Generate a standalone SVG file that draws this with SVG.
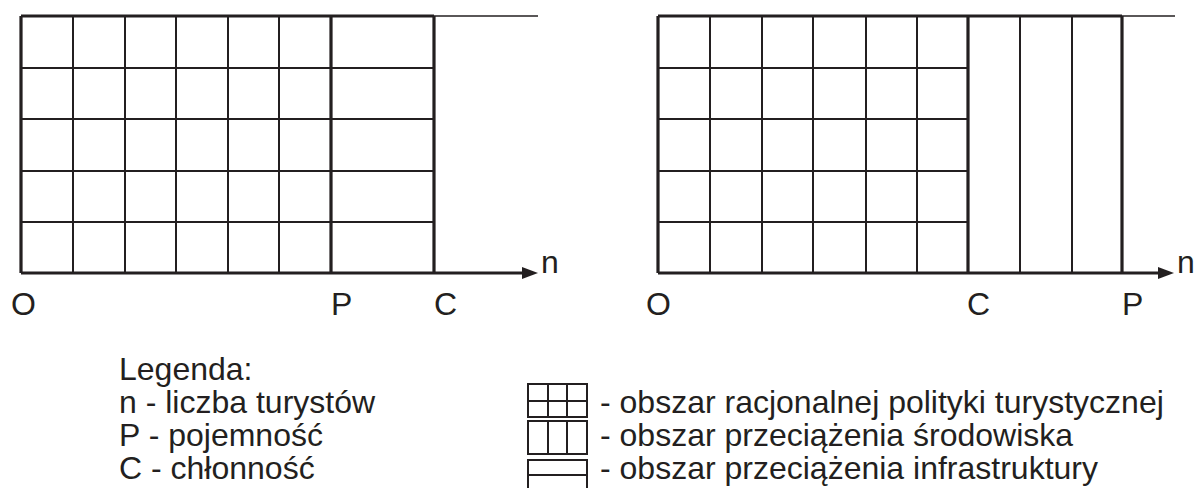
<svg xmlns="http://www.w3.org/2000/svg" width="1195" height="488" viewBox="0 0 1195 488">
<defs>
<style>
.thin{stroke:#231f20;stroke-width:2;fill:none}
.thick{stroke:#231f20;stroke-width:3.2;fill:none}
.ext{stroke:#231f20;stroke-width:1.6;fill:none}
.lbl{font-family:"Liberation Sans",Arial,sans-serif;font-size:32px;fill:#231f20}
.arr{fill:#231f20}
</style>
</defs>
<rect width="1195" height="488" fill="#ffffff"/>
<g id="chart-left">
<path class="thin" d="M73 16V273M125 16V273M176 16V273M228 16V273M279 16V273M21 68H434M21 119H434M21 171H434M21 222H434"/>
<path class="ext" d="M434 16H538"/>
<path class="thick" d="M21 16H434M21 16V273M331 16V273M434 16V273M21 273H524"/>
<polygon class="arr" points="538,273 522,267 522,279"/>
<text class="lbl" x="11" y="315">O</text>
<text class="lbl" x="331" y="315">P</text>
<text class="lbl" x="434" y="315">C</text>
<text class="lbl" x="541" y="273">n</text>
</g>
<g id="chart-right">
<path class="thin" d="M710 16V273M762 16V273M813 16V273M866 16V273M917 16V273M1020 16V273M1072 16V273M658 68H968M658 119H968M658 171H968M658 222H968"/>
<path class="ext" d="M1122 16H1175"/>
<path class="thick" d="M658 16H1122M658 16V273M968 16V273M1122 16V273M658 273H1160"/>
<polygon class="arr" points="1174,273 1158,267 1158,279"/>
<text class="lbl" x="646" y="315">O</text>
<text class="lbl" x="967" y="315">C</text>
<text class="lbl" x="1122" y="315">P</text>
<text class="lbl" x="1177" y="273">n</text>
</g>
<g id="legend">
<text class="lbl" x="119" y="380">Legenda:</text>
<text class="lbl" x="119" y="413">n - liczba turystów</text>
<text class="lbl" x="119" y="446">P - pojemność</text>
<text class="lbl" x="119" y="479">C - chłonność</text>
<rect class="thin" x="528" y="384" width="59" height="33"/>
<path class="thin" d="M548 384V417M567 384V417M528 401H587"/>
<rect class="thin" x="528" y="421" width="59" height="33"/>
<path class="thin" d="M548 421V454M567 421V454"/>
<rect class="thin" x="528" y="460" width="59" height="34"/>
<path class="thin" d="M528 475H587"/>
<text class="lbl" x="600" y="413">- obszar racjonalnej polityki turystycznej</text>
<text class="lbl" x="600" y="446">- obszar przeciążenia środowiska</text>
<text class="lbl" x="600" y="479">- obszar przeciążenia infrastruktury</text>
</g>
</svg>
